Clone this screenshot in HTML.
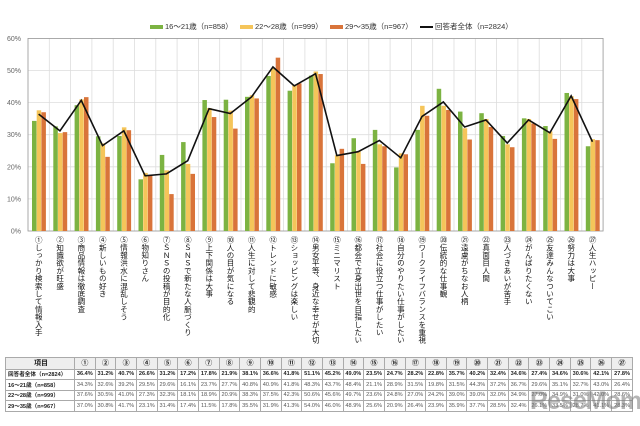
<!DOCTYPE html>
<html><head><meta charset="utf-8">
<style>
body{margin:0;width:640px;height:426px;background:#fff;position:relative;overflow:hidden;font-family:"Liberation Sans","Noto Sans CJK JP",sans-serif;}
#lab{position:absolute;top:236px;left:28px;height:110px;}
#lab div{position:absolute;top:0;width:21.3px;height:110px;writing-mode:vertical-rl;white-space:nowrap;font-size:7.5px;line-height:21.3px;color:#111;letter-spacing:0.2px;}
table{position:absolute;left:5px;top:357px;border-collapse:collapse;font-size:5.6px;color:#555;table-layout:fixed;width:628px;}
td{border:1px solid #aaa;height:9.5px;padding:0;text-align:center;white-space:nowrap;overflow:hidden;}
td:first-child{width:66px;text-align:left;padding-left:2px;color:#222;font-weight:bold;}
tr.h td{background:#eee;color:#222;font-size:7px;font-weight:bold;height:10.5px}
tr.h td:first-child{text-align:center}
tr.t td{color:#222;font-weight:bold}
.leg{position:absolute;top:21px;font-size:7.5px;color:#333;white-space:nowrap}
.sw{display:inline-block;width:13px;height:4px;vertical-align:middle;margin-right:2px}
.wm{position:absolute;left:530px;top:387px;font-size:25px;font-weight:bold;color:rgba(120,120,120,0.55);letter-spacing:-1px}
</style></head><body>
<svg id="s" width="640" height="426" style="position:absolute;left:0;top:0"></svg>
<div class="leg" style="left:150px"><span class="sw" style="background:#7cb342"></span>16～21歳（n=858）</div>
<div class="leg" style="left:240px"><span class="sw" style="background:#f5c55a"></span>22～28歳（n=999）</div>
<div class="leg" style="left:330px"><span class="sw" style="background:#d9743a"></span>29～35歳（n=967）</div>
<div class="leg" style="left:420px"><span class="sw" style="background:#111;height:1.5px"></span>回答者全体（n=2824）</div>
<div id="lab">
<div style="left:0">①しっかり検索して情報入手</div>
<div style="left:21.3px">②知識欲が旺盛</div>
<div style="left:42.6px">③商品情報は徹底調査</div>
<div style="left:63.9px">④新しいもの好き</div>
<div style="left:85.2px">⑤情報洪水に混乱しそう</div>
<div style="left:106.5px">⑥物知りさん</div>
<div style="left:127.8px">⑦ＳＮＳの投稿が目的化</div>
<div style="left:149.1px">⑧ＳＮＳで新たな人脈づくり</div>
<div style="left:170.4px">⑨上下関係は大事</div>
<div style="left:191.7px">⑩人の目が気になる</div>
<div style="left:213px">⑪人生に対して悲観的</div>
<div style="left:234.3px">⑫トレンドに敏感</div>
<div style="left:255.6px">⑬ショッピングは楽しい</div>
<div style="left:276.9px">⑭男女平等、身近な幸せが大切</div>
<div style="left:298.2px">⑮ミニマリスト</div>
<div style="left:319.5px">⑯都会で立身出世を目指したい</div>
<div style="left:340.8px">⑰社会に役立つ仕事がしたい</div>
<div style="left:362.1px">⑱自分のやりたい仕事がしたい</div>
<div style="left:383.4px">⑲ワークライフバランスを重視</div>
<div style="left:404.7px">⑳伝統的な仕事観</div>
<div style="left:426px">㉑遠慮がちなお人柄</div>
<div style="left:447.3px">㉒真面目人間</div>
<div style="left:468.6px">㉓人づきあいが苦手</div>
<div style="left:489.9px">㉔がんばりたくない</div>
<div style="left:511.2px">㉕友達みんなついてこい</div>
<div style="left:532.5px">㉖努力は大事</div>
<div style="left:553.8px">㉗人生ハッピー</div>
</div>
<table>
<tr class="h"><td>項目</td><td>①</td><td>②</td><td>③</td><td>④</td><td>⑤</td><td>⑥</td><td>⑦</td><td>⑧</td><td>⑨</td><td>⑩</td><td>⑪</td><td>⑫</td><td>⑬</td><td>⑭</td><td>⑮</td><td>⑯</td><td>⑰</td><td>⑱</td><td>⑲</td><td>⑳</td><td>㉑</td><td>㉒</td><td>㉓</td><td>㉔</td><td>㉕</td><td>㉖</td><td>㉗</td></tr>
<tr class="t"><td>回答者全体（n=2824）</td><td>36.4%</td><td>31.2%</td><td>40.7%</td><td>26.6%</td><td>31.2%</td><td>17.2%</td><td>17.8%</td><td>21.9%</td><td>38.1%</td><td>36.6%</td><td>41.8%</td><td>51.1%</td><td>45.2%</td><td>49.0%</td><td>23.5%</td><td>24.7%</td><td>28.2%</td><td>22.8%</td><td>35.7%</td><td>40.2%</td><td>32.4%</td><td>34.6%</td><td>27.4%</td><td>34.6%</td><td>30.6%</td><td>42.1%</td><td>27.8%</td></tr>
<tr><td>16～21歳（n=858）</td><td>34.3%</td><td>32.6%</td><td>39.2%</td><td>29.5%</td><td>29.6%</td><td>16.1%</td><td>23.7%</td><td>27.7%</td><td>40.8%</td><td>40.9%</td><td>41.8%</td><td>48.3%</td><td>43.7%</td><td>48.4%</td><td>21.1%</td><td>28.9%</td><td>31.5%</td><td>19.8%</td><td>31.5%</td><td>44.3%</td><td>37.2%</td><td>36.7%</td><td>29.6%</td><td>35.1%</td><td>32.7%</td><td>43.0%</td><td>26.4%</td></tr>
<tr><td>22～28歳（n=999）</td><td>37.6%</td><td>30.5%</td><td>41.0%</td><td>27.3%</td><td>32.3%</td><td>18.1%</td><td>18.9%</td><td>20.9%</td><td>38.3%</td><td>37.5%</td><td>42.3%</td><td>50.6%</td><td>45.6%</td><td>49.7%</td><td>23.6%</td><td>24.8%</td><td>27.0%</td><td>24.2%</td><td>39.0%</td><td>39.0%</td><td>32.0%</td><td>34.9%</td><td>27.0%</td><td>34.9%</td><td>31.0%</td><td>42.0%</td><td>28.6%</td></tr>
<tr><td>29～35歳（n=967）</td><td>37.0%</td><td>30.8%</td><td>41.7%</td><td>23.1%</td><td>31.4%</td><td>17.4%</td><td>11.5%</td><td>17.8%</td><td>35.5%</td><td>31.9%</td><td>41.3%</td><td>54.0%</td><td>46.0%</td><td>48.9%</td><td>25.6%</td><td>20.9%</td><td>26.4%</td><td>23.9%</td><td>35.9%</td><td>37.7%</td><td>28.5%</td><td>32.4%</td><td>26.1%</td><td>33.5%</td><td>28.7%</td><td>41.1%</td><td>28.3%</td></tr>
</table>
<div class="wm">ReseMom</div>
<script>
var T=[36.4,31.2,40.7,26.6,31.2,17.2,17.8,21.9,38.1,36.6,41.8,51.1,45.2,49.0,23.5,24.7,28.2,22.8,35.7,40.2,32.4,34.6,27.4,34.6,30.6,42.1,27.8];
var A=[34.3,32.6,39.2,29.5,29.6,16.1,23.7,27.7,40.8,40.9,41.8,48.3,43.7,48.4,21.1,28.9,31.5,19.8,31.5,44.3,37.2,36.7,29.6,35.1,32.7,43.0,26.4];
var B=[37.6,30.5,41.0,27.3,32.3,18.1,18.9,20.9,38.3,37.5,42.3,50.6,45.6,49.7,23.6,24.8,27.0,24.2,39.0,39.0,32.0,34.9,27.0,34.9,31.0,42.0,28.6];
var C=[37.0,30.8,41.7,23.1,31.4,17.4,11.5,17.8,35.5,31.9,41.3,54.0,46.0,48.9,25.6,20.9,26.4,23.9,35.9,37.7,28.5,32.4,26.1,33.5,28.7,41.1,28.3];
var L=28,W=21.3,Y0=231,K=3.21,h='';
for(var i=0;i<=6;i++){var y=Y0-i*10*K;h+='<line x1="'+L+'" x2="'+(L+27*W)+'" y1="'+y+'" y2="'+y+'" stroke="#ddd" stroke-width="0.8"/>';
h+='<text x="21" y="'+(y+2.5)+'" font-size="7" fill="#666" text-anchor="end" font-family="Liberation Sans">'+(i*10)+'%</text>';}
for(var i=0;i<=27;i++){var x=L+i*W;h+='<line x1="'+x+'" x2="'+x+'" y1="'+(Y0-60*K)+'" y2="'+Y0+'" stroke="#ddd" stroke-width="0.8"/>';}
h+='<rect x="'+L+'" y="'+(Y0-60*K)+'" width="'+(27*W)+'" height="'+(60*K)+'" fill="none" stroke="#999" stroke-width="0.8"/>';
var col=['#7cb342','#f5c55a','#d9743a'],S=[A,B,C];
for(var i=0;i<27;i++)for(var j=0;j<3;j++){var v=S[j][i];h+='<rect x="'+(L+i*W+4+j*4.7)+'" y="'+(Y0-v*K)+'" width="4.5" height="'+(v*K)+'" fill="'+col[j]+'"/>';}
var p='';for(var i=0;i<27;i++)p+=(L+i*W+W/2)+','+(Y0-T[i]*K)+' ';
h+='<polyline points="'+p+'" fill="none" stroke="#111" stroke-width="1.6"/>';
document.getElementById('s').innerHTML=h;
</script>
</body></html>
